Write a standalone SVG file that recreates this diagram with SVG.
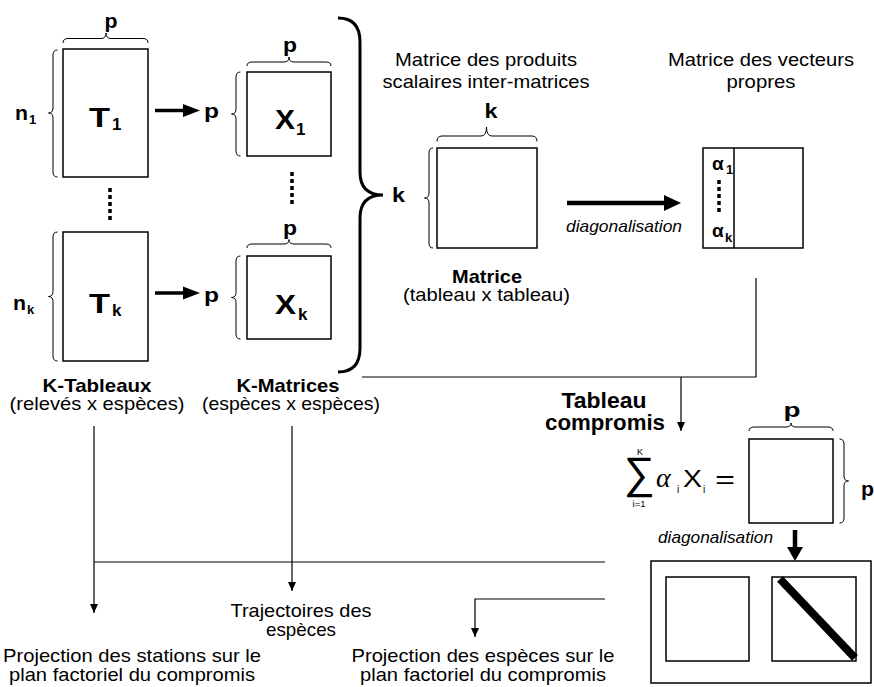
<svg xmlns="http://www.w3.org/2000/svg" width="874" height="687" viewBox="0 0 874 687">
<style>
text{font-family:"Liberation Sans",Arial,Helvetica,sans-serif;fill:#000}
.n{font-size:19px}
.b{font-size:19px;font-weight:bold}
.lbl{font-size:21px;font-weight:bold}
.big{font-size:28px;font-weight:bold}
.sub{font-weight:bold}
.it{font-size:17px;font-style:italic}
.box{fill:#fff;stroke:#000;stroke-width:1.5}
.br{fill:none;stroke:#000;stroke-width:1}
.ln{fill:none;stroke:#000;stroke-width:1.2}
.dot{fill:none;stroke:#000;stroke-width:3.5;stroke-dasharray:4 3}
</style>
<defs>
<marker id="ah" markerWidth="9" markerHeight="9" refX="9" refY="4.5" orient="auto" markerUnits="userSpaceOnUse">
<path d="M0,0.5 L9,4.5 L0,8.5 Z" fill="#000"/>
</marker>
</defs>

<g id="T1">
<path class="br" d="M63,43 Q63,38.5 68,38.5 L101,38.5 Q106,38.5 106,33 Q106,38.5 111,38.5 L143,38.5 Q148,38.5 148,43"/>
<text class="lbl" x="111" y="28" text-anchor="middle" textLength="13" lengthAdjust="spacingAndGlyphs">p</text>
<path class="br" d="M57.5,50 Q53,50 53,55 L53,108 Q53,113 48.5,113 Q53,113 53,118 L53,172 Q53,177 57.5,177"/>
<text class="lbl" x="15" y="120" textLength="13" lengthAdjust="spacingAndGlyphs">n</text>
<text class="sub" x="29" y="124" style="font-size:13px">1</text>
<rect class="box" x="63" y="49" width="85" height="128"/>
<text class="big" x="89" y="127" textLength="21" lengthAdjust="spacingAndGlyphs">T</text>
<text class="sub" x="112" y="130" style="font-size:17px">1</text>
</g>

<g id="Tk">
<path class="br" d="M57.5,232 Q53,232 53,237 L53,291.5 Q53,296.5 48.5,296.5 Q53,296.5 53,301.5 L53,356 Q53,361 57.5,361"/>
<text class="lbl" x="13" y="310" textLength="13" lengthAdjust="spacingAndGlyphs">n</text>
<text class="sub" x="27" y="314" style="font-size:13px">k</text>
<rect class="box" x="63" y="232" width="85" height="129"/>
<text class="big" x="89" y="313" textLength="21" lengthAdjust="spacingAndGlyphs">T</text>
<text class="sub" x="112" y="316" style="font-size:17px">k</text>
</g>

<g id="X1">
<path class="br" d="M247,66 Q247,62 252,62 L284,62 Q289,62 289,57 Q289,62 294,62 L326,62 Q331,62 331,66"/>
<text class="lbl" x="290" y="52" text-anchor="middle" textLength="14" lengthAdjust="spacingAndGlyphs">p</text>
<path class="br" d="M240.5,72 Q236,72 236,77 L236,109 Q236,114 231.5,114 Q236,114 236,119 L236,151 Q236,156 240.5,156"/>
<text class="lbl" x="204" y="118" textLength="15" lengthAdjust="spacingAndGlyphs">p</text>
<rect class="box" x="247" y="72" width="84" height="84"/>
<text class="big" x="275" y="129" textLength="20" lengthAdjust="spacingAndGlyphs">X</text>
<text class="sub" x="296" y="135" style="font-size:17px">1</text>
</g>

<g id="Xk">
<path class="br" d="M247,248 Q247,244 252,244 L284,244 Q289,244 289,239.5 Q289,244 294,244 L326,244 Q331,244 331,248"/>
<text class="lbl" x="290" y="235" text-anchor="middle" textLength="14" lengthAdjust="spacingAndGlyphs">p</text>
<path class="br" d="M240.5,256 Q236,256 236,261 L236,292.5 Q236,297.5 231.5,297.5 Q236,297.5 236,302.5 L236,334 Q236,339 240.5,339"/>
<text class="lbl" x="204" y="302" textLength="15" lengthAdjust="spacingAndGlyphs">p</text>
<rect class="box" x="247" y="256" width="84" height="83"/>
<text class="big" x="275" y="314" textLength="21" lengthAdjust="spacingAndGlyphs">X</text>
<text class="sub" x="298" y="320" style="font-size:17px">k</text>
</g>

<g id="dots">
<line class="dot" x1="110" y1="188" x2="110" y2="222"/>
<line class="dot" x1="292" y1="172" x2="292" y2="205"/>
</g>

<g id="labels-left">
<text class="b" x="97" y="392" text-anchor="middle" textLength="109" lengthAdjust="spacingAndGlyphs">K-Tableaux</text>
<text class="n" x="97" y="410" text-anchor="middle" textLength="175" lengthAdjust="spacingAndGlyphs">(relevés x espèces)</text>
<text class="b" x="288" y="392" text-anchor="middle" textLength="103" lengthAdjust="spacingAndGlyphs">K-Matrices</text>
<text class="n" x="291" y="410" text-anchor="middle" textLength="178" lengthAdjust="spacingAndGlyphs">(espèces x espèces)</text>
</g>

<g id="bigbrace">
<path d="M338,18 Q360,18 360,42 L360,172 Q360,195 383,195 Q360,195 360,218 L360,348 Q360,372 338,372" fill="none" stroke="#000" stroke-width="3"/>
<text class="lbl" x="392" y="202" textLength="13" lengthAdjust="spacingAndGlyphs">k</text>
</g>

<g id="matrice">
<text class="n" x="486" y="66" text-anchor="middle" textLength="182" lengthAdjust="spacingAndGlyphs">Matrice des produits</text>
<text class="n" x="486" y="88" text-anchor="middle" textLength="207" lengthAdjust="spacingAndGlyphs">scalaires inter-matrices</text>
<path class="br" d="M437,141.5 Q437,136 442,136 L481,136 Q486.5,136 486.5,127 Q486.5,136 492,136 L532,136 Q537,136 537,141.5"/>
<text class="lbl" x="491" y="118" text-anchor="middle" textLength="13" lengthAdjust="spacingAndGlyphs">k</text>
<path class="br" d="M433,148 Q429,148 429,153 L429,193 Q429,198 424.5,198 Q429,198 429,203 L429,243 Q429,248 433,248"/>
<rect class="box" x="437" y="148" width="100" height="100"/>
<text class="b" x="487" y="283" text-anchor="middle" textLength="70" lengthAdjust="spacingAndGlyphs">Matrice</text>
<text class="n" x="486.5" y="301" text-anchor="middle" textLength="167" lengthAdjust="spacingAndGlyphs">(tableau x tableau)</text>
</g>

<g id="vecteurs">
<text class="n" x="761" y="66" text-anchor="middle" textLength="186" lengthAdjust="spacingAndGlyphs">Matrice des vecteurs</text>
<text class="n" x="761" y="88" text-anchor="middle" textLength="69" lengthAdjust="spacingAndGlyphs">propres</text>
<rect class="box" x="703" y="148" width="100" height="100"/>
<line x1="734" y1="148" x2="734" y2="248" stroke="#000" stroke-width="1.5"/>
<text class="b" x="712" y="170">α</text>
<text class="sub" x="726" y="174" style="font-size:13px">1</text>
<line class="dot" x1="719" y1="180" x2="719" y2="213" stroke-width="3"/>
<text class="b" x="712" y="237">α</text>
<text class="sub" x="725" y="242" style="font-size:13px">k</text>
</g>

<g id="compromis">
<text x="604" y="408" text-anchor="middle" font-size="22.5" font-weight="bold" textLength="85" lengthAdjust="spacingAndGlyphs">Tableau</text>
<text x="605" y="430" text-anchor="middle" font-size="22.5" font-weight="bold" textLength="120" lengthAdjust="spacingAndGlyphs">compromis</text>
<text x="639.5" y="488" text-anchor="middle" font-size="44" textLength="31" lengthAdjust="spacingAndGlyphs">∑</text>
<text x="640" y="455" text-anchor="middle" font-size="9">K</text>
<text x="639" y="507" text-anchor="middle" font-size="9.5">i=1</text>
<text x="656" y="487" font-size="28" font-style="italic" style="font-family:'Liberation Serif','Times New Roman',serif">α</text>
<text x="677" y="493" font-size="10">i</text>
<text x="683" y="487" font-size="23.5" textLength="19" lengthAdjust="spacingAndGlyphs">X</text>
<text x="703" y="493" font-size="10">i</text>
<text x="715" y="488" font-size="26" textLength="20" lengthAdjust="spacingAndGlyphs">=</text>
<path class="br" d="M749,431 Q749,427 754,427 L786,427 Q791,427 791,423 Q791,427 796,427 L828,427 Q833,427 833,431"/>
<text class="lbl" x="792" y="417" text-anchor="middle" textLength="17" lengthAdjust="spacingAndGlyphs">p</text>
<rect class="box" x="749" y="439" width="84" height="84"/>
<path class="br" d="M839.5,439 Q844,439 844,444 L844,476 Q844,481 848.5,481 Q844,481 844,486 L844,518 Q844,523 839.5,523"/>
<text class="lbl" x="861" y="496" textLength="13" lengthAdjust="spacingAndGlyphs">p</text>
<text class="it" x="658" y="543" textLength="115" lengthAdjust="spacingAndGlyphs">diagonalisation</text>
</g>

<g id="resultat">
<rect class="box" x="651" y="561" width="220" height="122"/>
<rect class="box" x="666" y="577" width="83" height="84"/>
<rect class="box" x="772" y="577" width="84" height="84"/>
<line x1="780" y1="579" x2="855" y2="658" stroke="#000" stroke-width="8"/>
</g>

<g id="sorties">
<text class="n" x="301" y="617" text-anchor="middle" textLength="141" lengthAdjust="spacingAndGlyphs">Trajectoires des</text>
<text class="n" x="301" y="636" text-anchor="middle" textLength="70" lengthAdjust="spacingAndGlyphs">espèces</text>
<text class="n" x="132" y="662" text-anchor="middle" textLength="258" lengthAdjust="spacingAndGlyphs">Projection des stations sur le</text>
<text class="n" x="132" y="681" text-anchor="middle" textLength="246" lengthAdjust="spacingAndGlyphs">plan factoriel du compromis</text>
<text class="n" x="483" y="662" text-anchor="middle" textLength="263" lengthAdjust="spacingAndGlyphs">Projection des espèces sur le</text>
<text class="n" x="483" y="681" text-anchor="middle" textLength="246" lengthAdjust="spacingAndGlyphs">plan factoriel du compromis</text>
</g>

<g id="connectors">
<line x1="155" y1="110.5" x2="185" y2="110.5" stroke="#000" stroke-width="3.5"/>
<path d="M183,104 L200,110.5 L183,117 Z"/>
<line x1="155" y1="293" x2="185" y2="293" stroke="#000" stroke-width="3.5"/>
<path d="M183,286.5 L200,293 L183,299.5 Z"/>
<line x1="567" y1="203" x2="667" y2="203" stroke="#000" stroke-width="4.5"/>
<path d="M664,195 L681,203 L664,211 Z"/>
<text class="it" x="566" y="232" textLength="116" lengthAdjust="spacingAndGlyphs">diagonalisation</text>
<polyline class="ln" points="756,278 756,377 362,377"/>
<line class="ln" x1="681" y1="377" x2="681" y2="431" marker-end="url(#ah)"/>
<line x1="795" y1="530" x2="795" y2="549" stroke="#000" stroke-width="4.5"/>
<path d="M787,547 L795,561 L803,547 Z"/>
<line class="ln" x1="94" y1="426" x2="94" y2="613" marker-end="url(#ah)"/>
<line class="ln" x1="292" y1="426" x2="292" y2="591" marker-end="url(#ah)"/>
<line class="ln" x1="94" y1="562" x2="605" y2="562"/>
<polyline class="ln" points="605,599 475,599 475,637" marker-end="url(#ah)"/>
</g>
</svg>
